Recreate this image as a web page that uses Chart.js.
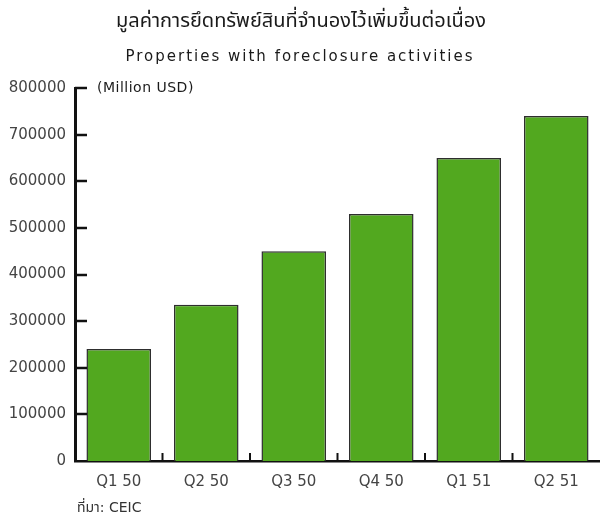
<!DOCTYPE html>
<html>
<head>
<meta charset="utf-8">
<script src="https://cdn.jsdelivr.net/npm/chart.js@4/dist/chart.umd.min.js"></script>
<style>
  html, body { margin: 0; padding: 0; background: #ffffff; }
  #wrap { width: 600px; height: 520px; position: relative; }
</style>
</head>
<body>
<div id="wrap"><canvas id="c" width="600" height="520"></canvas></div>
<script>
// Quarter labels (Thai Buddhist-era years 2550-2551)
const quarters = ['Q1 50', 'Q2 50', 'Q3 50', 'Q4 50', 'Q1 51', 'Q2 51'];
// Value of properties with foreclosure activities, million USD
const foreclosureValues = [240000, 335000, 450000, 530000, 650000, 740000];
// Vertical axis ticks
const yTicks = [0, 100000, 200000, 300000, 400000, 500000, 600000, 700000, 800000];

const titleText = 'มูลค่าการยึดทรัพย์สินที่จำนองไว้เพิ่มขึ้นต่อเนื่อง';
const subtitleText = 'Properties with foreclosure activities';
const unitText = '(Million USD)';
const sourceText = 'ที่มา: CEIC';

const FONT = '"DejaVu Sans", "Noto Sans", "Noto Sans Thai", sans-serif';

// Draws the title lines, unit note, source note and the inward tick marks
const decorations = {
  id: 'decorations',
  afterDatasetsDraw(chart) {
    const ctx = chart.ctx;
    const x = chart.scales.x, y = chart.scales.y;
    const area = chart.chartArea;
    ctx.save();
    ctx.strokeStyle = '#111';
    ctx.lineWidth = 2.5;
    ctx.lineCap = 'butt';
    // y ticks pointing into the plot
    yTicks.forEach(v => {
      if (v === 0) return;
      const py = Math.round(y.getPixelForValue(v));
      ctx.beginPath();
      ctx.moveTo(area.left, py);
      ctx.lineTo(area.left + 12, py);
      ctx.stroke();
    });
    // x ticks at category boundaries, pointing up
    ctx.lineWidth = 2;
    for (let i = 0; i < quarters.length - 1; i++) {
      const px = (x.getPixelForValue(i) + x.getPixelForValue(i + 1)) / 2;
      ctx.beginPath();
      ctx.moveTo(px, area.bottom);
      ctx.lineTo(px, area.bottom - 8);
      ctx.stroke();
    }
    // texts
    ctx.fillStyle = '#1a1a1a';
    ctx.textAlign = 'center';
    ctx.textBaseline = 'middle';
    ctx.font = '20px ' + FONT;
    ctx.fillText(titleText, 301, 22);
    ctx.font = '15px ' + FONT;
    ctx.letterSpacing = '2px';
    ctx.fillText(subtitleText, 300, 57);
    ctx.textAlign = 'left';
    ctx.font = '14px ' + FONT;
    ctx.letterSpacing = '0.5px';
    ctx.fillText(unitText, area.left + 22, 88);
    ctx.fillStyle = '#333';
    ctx.font = '14px ' + FONT;
    ctx.letterSpacing = '0px';
    ctx.fillText(sourceText, 77, 508);
    ctx.restore();
  }
};

new Chart(document.getElementById('c'), {
  type: 'bar',
  data: {
    labels: quarters,
    datasets: [{
      data: foreclosureValues,
      backgroundColor: '#52a81f',
      borderColor: '#2e2e2e',
      borderWidth: 1.5,
      borderSkipped: 'bottom',
      barPercentage: 0.82,
      categoryPercentage: 0.9
    }]
  },
  options: {
    responsive: false,
    animation: false,
    devicePixelRatio: 1,
    layout: { padding: { top: 88, right: 0, left: 0, bottom: 0 } },
    plugins: {
      legend: { display: false },
      tooltip: { enabled: false },
      title: { display: false }
    },
    scales: {
      x: {
        offset: true,
        grid: { display: false, drawTicks: false },
        border: { display: true, color: '#111', width: 2.5 },
        ticks: { color: '#444', font: { family: FONT, size: 15 }, padding: 12 },
        afterFit(s) { s.height = 59; }
      },
      y: {
        min: 0,
        max: 800000,
        afterBuildTicks(s) { s.ticks = yTicks.map(v => ({ value: v })); },
        grid: { display: false, drawTicks: false },
        border: { display: true, color: '#111', width: 3 },
        ticks: {
          color: '#444',
          font: { family: FONT, size: 15 },
          padding: 9,
          callback: v => String(v)
        },
        afterFit(s) { s.width = 75; }
      }
    }
  },
  plugins: [decorations]
});
</script>
</body>
</html>
